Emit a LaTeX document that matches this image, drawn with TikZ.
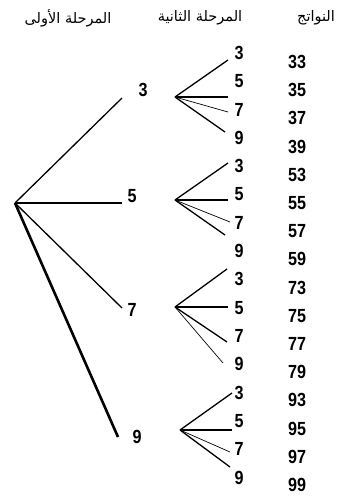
\documentclass[tikz,border=0pt]{standalone}
\usepackage{fontspec}
\setmainfont{Liberation Sans}
\TeXXeTstate=1
\newfontfamily\arabicfont[Script=Arabic]{DejaVu Sans}
\newfontfamily\numfont[FakeStretch=0.85]{Liberation Sans}
\begin{document}
\begin{tikzpicture}[x=1pt,y=-1pt,
  num/.style={inner sep=0pt,font=\numfont\fontsize{19}{19}\selectfont\bfseries},
  hdr/.style={inner sep=0pt,font=\arabicfont\fontsize{14.5}{16}\selectfont},
  br/.style={line width=1.3pt},
  thinbr/.style={line width=0.7pt},
  thickbr/.style={line width=2.6pt}]
\useasboundingbox (0,0) rectangle (353,497);
% headers
\node[hdr] (h1) at (68,18) {\beginR المرحلة الأولى\endR};
\node[hdr] (h2) at (200,18) {\beginR المرحلة الثانية\endR};
\node[hdr] (h3) at (316,18) {\beginR النواتج\endR};
% root and first stage
\coordinate (r) at (15,203);
\node[num] (a3) at (143,90) {3};
\node[num] (a5) at (132,196) {5};
\node[num] (a7) at (132,310) {7};
\node[num] (a9) at (137,437) {9};
\coordinate (ea3) at (122,98);
\coordinate (ea5) at (122,203);
\coordinate (ea7) at (122,308);
\coordinate (ea9) at (118,437);
\draw[br] (r) -- (ea3);
\draw[br] (r) -- (ea5);
\draw[br] (r) -- (ea7);
\draw[thickbr] (r) -- (ea9);
% second stage vertices
\coordinate (g1) at (175,97);
\coordinate (g2) at (175,200);
\coordinate (g3) at (175,307);
\coordinate (g4) at (180,430);
% second stage labels and outcomes
\foreach \i/\d/\o in {0/3/33,1/5/35,2/7/37,3/9/39,4/3/53,5/5/55,6/7/57,7/9/59,8/3/73,9/5/75,10/7/77,11/9/79,12/3/93,13/5/95,14/7/97,15/9/99}{
  \node[num] (b\i) at (239,{53+28.3*\i}) {\d};
  \node[num] (o\i) at (297,{62+28.2*\i}) {\o};
}
% branch ends
\coordinate (e0) at (228,60);
\coordinate (e1) at (228,97);
\coordinate (e2) at (228,112);
\coordinate (e3) at (225,132);
\coordinate (e4) at (228,163);
\coordinate (e5) at (228,200);
\coordinate (e6) at (230,222);
\coordinate (e7) at (225,235);
\coordinate (e8) at (227,269);
\coordinate (e9) at (228,307);
\coordinate (e10) at (227,342);
\coordinate (e11) at (223,363);
\coordinate (e12) at (232,393);
\coordinate (e13) at (232,430);
\coordinate (e14) at (230,452);
\coordinate (e15) at (230,467);
\draw[br] (g1) -- (e0);
\draw[br] (g1) -- (e1);
\draw[thinbr] (g1) -- (e2);
\draw[br] (g1) -- (e3);
\draw[br] (g2) -- (e4);
\draw[br] (g2) -- (e5);
\draw[thinbr] (g2) -- (e6);
\draw[br] (g2) -- (e7);
\draw[br] (g3) -- (e8);
\draw[br] (g3) -- (e9);
\draw[br] (g3) -- (e10);
\draw[thinbr] (g3) -- (e11);
\draw[br] (g4) -- (e12);
\draw[br] (g4) -- (e13);
\draw[thinbr] (g4) -- (e14);
\draw[br] (g4) -- (e15);
\end{tikzpicture}
\end{document}
